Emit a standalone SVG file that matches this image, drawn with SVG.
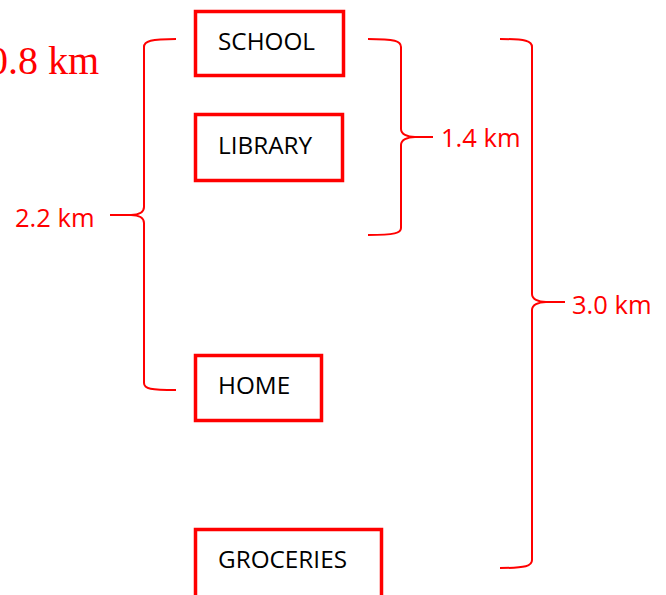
<svg xmlns="http://www.w3.org/2000/svg" width="666" height="595" viewBox="0 0 666 595">
<style>
.box{fill:#fff;stroke:#ff0000;stroke-width:3.5}
.lbl{font-family:"Open Sans","Noto Sans",sans-serif;font-size:24.3px;fill:#000}
.br{fill:none;stroke:#ff0000;stroke-width:2}
.dist{font-family:"Open Sans","Noto Sans",sans-serif;font-size:25.5px;fill:#ff0000}
.serif{font-family:"Liberation Serif","Times New Roman",serif;font-size:40px;fill:#ff0000}
</style>
<rect width="666" height="595" fill="#fff"/>
<text class="serif" x="99" y="74" text-anchor="end">0.8 km</text>
<g id="school">
<rect class="box" x="195.5" y="11.5" width="148" height="64"/>
<text class="lbl" x="218" y="50">SCHOOL</text>
</g>
<g id="library">
<rect class="box" x="195.5" y="114.5" width="147" height="66"/>
<text class="lbl" x="218" y="154">LIBRARY</text>
</g>
<g id="home">
<rect class="box" x="195.5" y="355.5" width="126" height="65"/>
<text class="lbl" x="218" y="394">HOME</text>
</g>
<g id="groceries">
<rect class="box" x="195.5" y="529.5" width="186" height="80"/>
<text class="lbl" x="218" y="568">GROCERIES</text>
</g>
<g id="connectors">
<path class="br" d="M176,39 C151,39 144,41 144,47 L144,207 C144,212 139,215 131,215 C139,215 144,218 144,223 L144,383 C144,389 151,390 176,390 M131,215 L110,215"/>
<path class="br" d="M368,39 C395,39 401,41 401,47 L401,129 C401,134 407,137 415,137 C407,137 401,140 401,145 L401,228 C401,233 395,235 368,235 M415,137 L433,137"/>
<path class="br" d="M500,39 C526,39 532,41 532,47 L532,294 C532,299 538,302 546,302 C538,302 532,305 532,310 L532,560 C532,566 526,568 500,568 M546,302 L565,302"/>
</g>
<text class="dist" x="15" y="227">2.2 km</text>
<text class="dist" x="441" y="147">1.4 km</text>
<text class="dist" x="572" y="314">3.0 km</text>
</svg>
